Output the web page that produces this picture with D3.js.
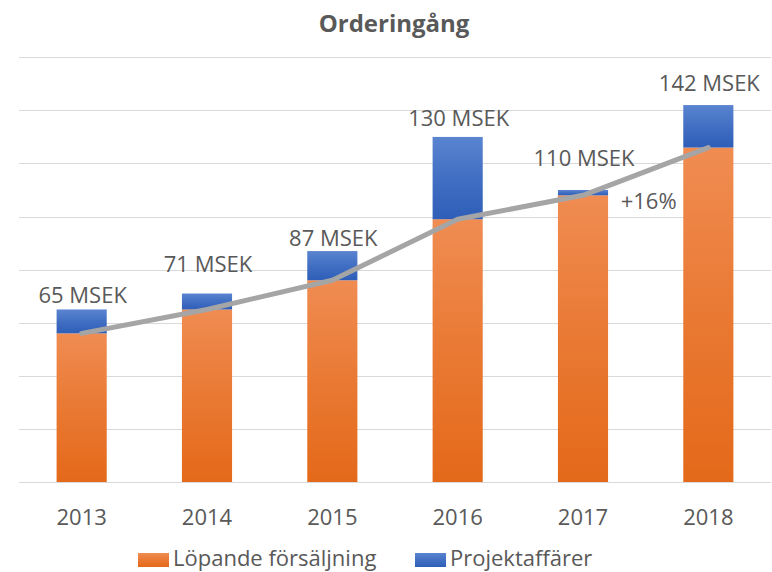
<!DOCTYPE html>
<html lang="sv">

<head>
    <meta charset="UTF-8">
    <title>Orderingång</title>
    <script src="https://d3js.org/d3.v7.min.js"></script>
    <style>
        body { margin: 0; background: #fff; }
        text { font-family: "Open Sans", sans-serif; fill: #595959; }
    </style>
</head>

<body>
    <div id="chart"></div>

    <script>
        // data
        const years = ["2013", "2014", "2015", "2016", "2017", "2018"];
        const lopande = [56, 65, 76, 99, 108, 126];
        const projekt = [9, 6, 11, 31, 2, 16];
        const totalLabels = ["65 MSEK", "71 MSEK", "87 MSEK", "130 MSEK", "110 MSEK", "142 MSEK"];
        const yTicks = [0, 20, 40, 60, 80, 100, 120, 140, 160];
        const growthLabel = "+16%";

        // layout: gap between bar top and label baseline (manually placed boxes in the original)
        const labelGap = [6, 22, 5, 11, 24, 14];

        const width = 772;
        const height = 572;

        const x = d3.scaleBand()
            .domain(years)
            .range([19, 771])
            .paddingInner(0.6)
            .paddingOuter(0.3);

        const y = d3.scaleLinear()
            .domain([0, 160])
            .range([482, 57.3]);

        const svg = d3.select("#chart")
            .append("svg")
            .attr("width", width)
            .attr("height", height);

        // gradients
        const defs = svg.append("defs");
        function grad(id, top, bottom) {
            const g = defs.append("linearGradient")
                .attr("id", id)
                .attr("x1", 0).attr("y1", 0).attr("x2", 0).attr("y2", 1);
            g.append("stop").attr("offset", "0%").attr("stop-color", top);
            g.append("stop").attr("offset", "50%").attr("stop-color", d3.interpolateRgb(top, bottom)(0.55));
            g.append("stop").attr("offset", "100%").attr("stop-color", bottom);
        }
        grad("orange", "#f08c52", "#e4691a");
        grad("blue", "#5a84d0", "#2e5eb8");

        // title
        svg.append("text")
            .attr("x", 394)
            .attr("y", 32)
            .attr("text-anchor", "middle")
            .style("font-size", "24px")
            .style("font-weight", "bold")
            .text("Orderingång");

        // gridlines
        svg.append("g")
            .selectAll("line")
            .data(yTicks)
            .join("line")
            .attr("x1", 19)
            .attr("x2", 771)
            .attr("y1", d => Math.round(y(d)) + 0.5)
            .attr("y2", d => Math.round(y(d)) + 0.5)
            .attr("stroke", "#d9d9d9")
            .attr("stroke-width", 1);

        // stacked bars
        const rows = years.map((yr, i) => ({ year: yr, a: lopande[i], b: projekt[i], i: i }));

        svg.append("g")
            .selectAll("rect")
            .data(rows)
            .join("rect")
            .attr("x", d => x(d.year))
            .attr("width", x.bandwidth())
            .attr("y", d => y(d.a))
            .attr("height", d => y(0) - y(d.a))
            .attr("fill", "url(#orange)");

        svg.append("g")
            .selectAll("rect")
            .data(rows)
            .join("rect")
            .attr("x", d => x(d.year))
            .attr("width", x.bandwidth())
            .attr("y", d => y(d.a + d.b))
            .attr("height", d => y(d.a) - y(d.a + d.b))
            .attr("fill", "url(#blue)");

        // trend line through löpande values
        const line = d3.line()
            .x(d => x(d.year) + x.bandwidth() / 2)
            .y(d => y(d.a));

        svg.append("path")
            .datum(rows)
            .attr("d", line)
            .attr("fill", "none")
            .attr("stroke", "#a5a5a5")
            .attr("stroke-width", 5)
            .attr("stroke-linejoin", "round")
            .attr("stroke-linecap", "round");

        // total labels
        svg.append("g")
            .selectAll("text")
            .data(rows)
            .join("text")
            .attr("x", d => x(d.year) + x.bandwidth() / 2 + 1)
            .attr("y", d => y(d.a + d.b) - labelGap[d.i])
            .attr("text-anchor", "middle")
            .style("font-size", "22px")
            .text(d => totalLabels[d.i]);

        // growth label between 2017 and 2018
        svg.append("text")
            .attr("x", (x("2017") + x("2018")) / 2 + x.bandwidth() / 2 + 3)
            .attr("y", (y(lopande[4]) + y(lopande[5])) / 2 + 38)
            .attr("text-anchor", "middle")
            .style("font-size", "22px")
            .text(growthLabel);

        // x axis labels
        svg.append("g")
            .selectAll("text")
            .data(years)
            .join("text")
            .attr("x", d => x(d) + x.bandwidth() / 2)
            .attr("y", 525)
            .attr("text-anchor", "middle")
            .style("font-size", "22px")
            .text(d => d);

        // legend
        const legendItems = [
            { name: "Löpande försäljning", fill: "url(#orange)", x: 138 },
            { name: "Projektaffärer", fill: "url(#blue)", x: 415 }
        ];
        const lg = svg.append("g")
            .selectAll("g")
            .data(legendItems)
            .join("g")
            .attr("transform", d => `translate(${d.x},0)`);
        lg.append("rect")
            .attr("x", 0)
            .attr("y", 553)
            .attr("width", 31)
            .attr("height", 14)
            .attr("fill", d => d.fill);
        lg.append("text")
            .attr("x", 35)
            .attr("y", 566)
            .style("font-size", "22px")
            .text(d => d.name);
    </script>
</body>

</html>
